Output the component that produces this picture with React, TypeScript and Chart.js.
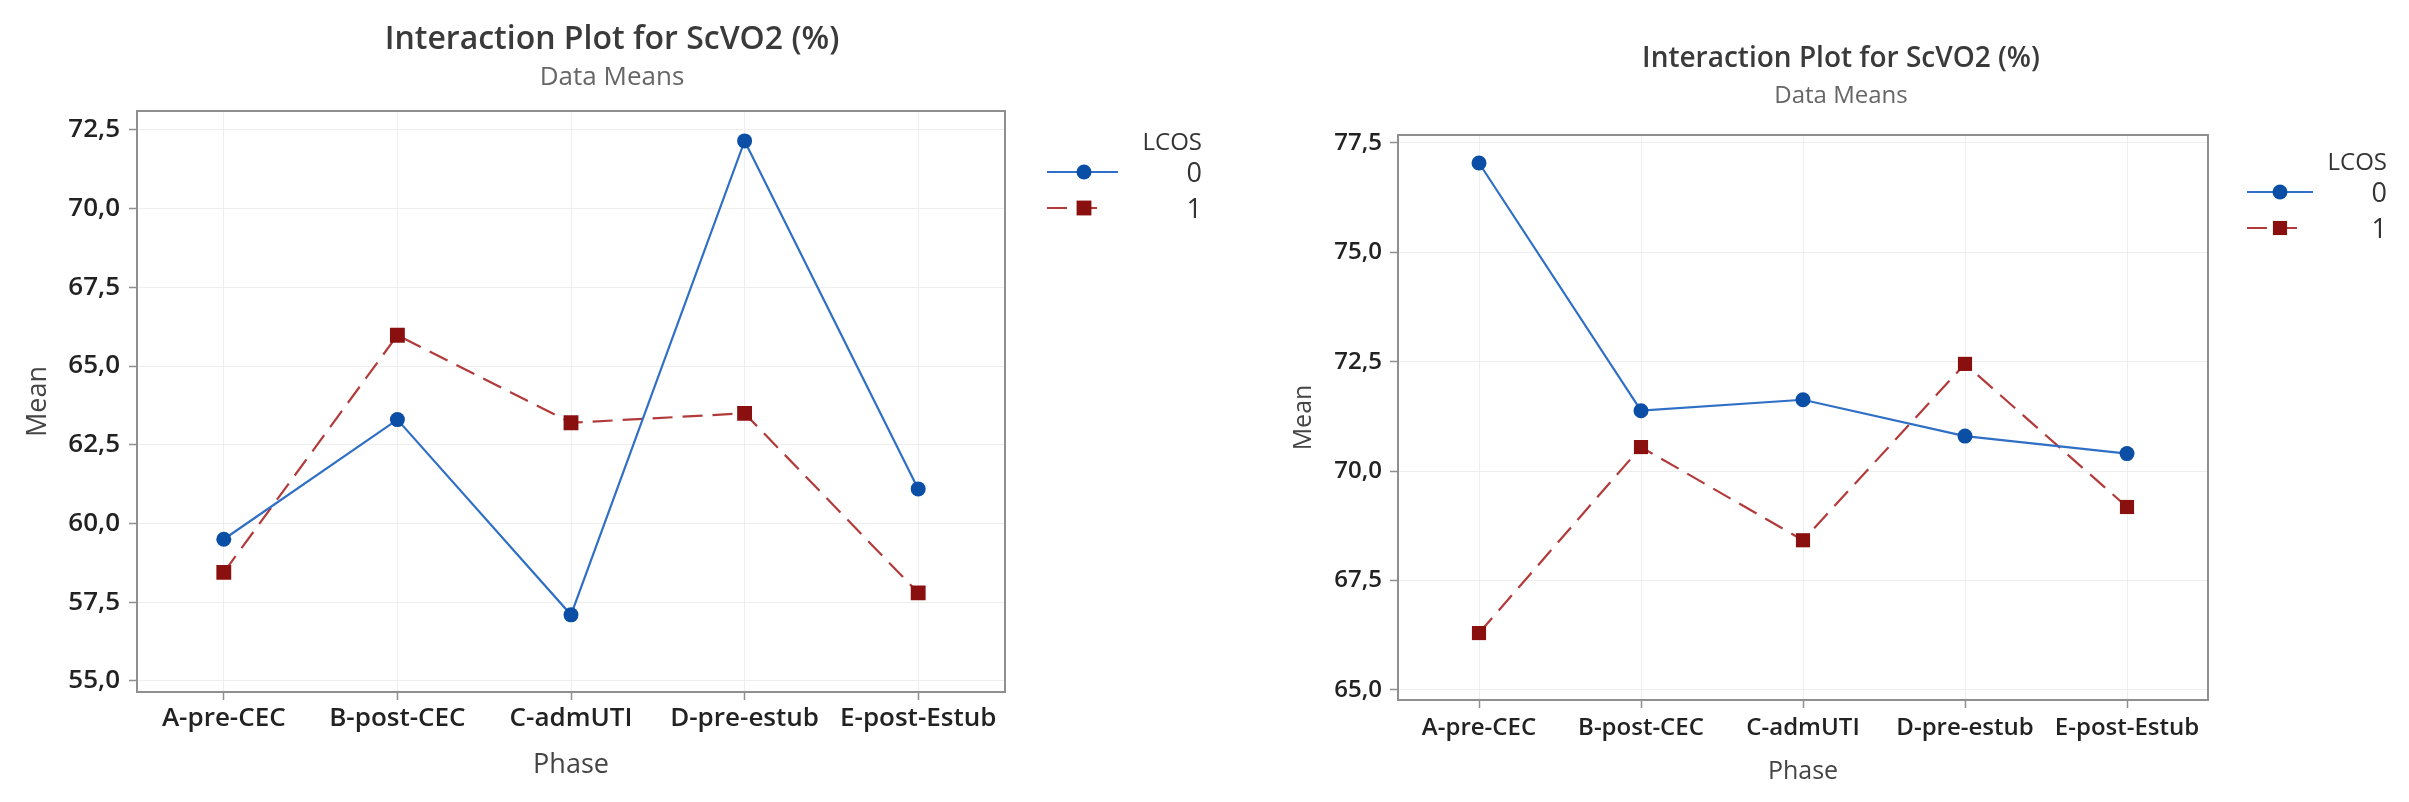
import React, { useEffect, useRef } from 'react';
import { Chart, registerables } from 'chart.js';

Chart.register(...registerables);

// ---------- data ----------
const phases = ['A-pre-CEC', 'B-post-CEC', 'C-admUTI', 'D-pre-estub', 'E-post-Estub'];
const lcosLevels = ['0', '1'];

// left panel
const leftLcos0 = [59.5, 63.3, 57.1, 72.15, 61.1];
const leftLcos1 = [58.45, 65.98, 63.2, 63.5, 57.8];
const leftTicks = [55, 57.5, 60, 62.5, 65, 67.5, 70, 72.5];
const leftRange = [54.65, 73.1];

// right panel
const rightLcos0 = [77.04, 71.38, 71.63, 70.8, 70.4];
const rightLcos1 = [66.3, 70.55, 68.42, 72.45, 69.18];
const rightTicks = [65, 67.5, 70, 72.5, 75, 77.5];
const rightRange = [64.77, 77.68];

const titleText = 'Interaction Plot for ScVO2 (%)';
const subtitleText = 'Data Means';
const xTitle = 'Phase';
const yTitle = 'Mean';
const legendTitle = 'LCOS';

const FONT = "'Open Sans', 'Noto Sans', sans-serif";

const fmt = (v: number) => v.toFixed(1).replace('.', ',');

const framePlugin = {
  id: 'mtFrame',
  beforeDatasetsDraw(chart: any) {
    const { ctx, chartArea } = chart;
    ctx.save();
    ctx.strokeStyle = '#8f8f8f';
    ctx.lineWidth = 2;
    ctx.beginPath();
    ctx.moveTo(chartArea.left, chartArea.top);
    ctx.lineTo(chartArea.right, chartArea.top);
    ctx.lineTo(chartArea.right, chartArea.bottom);
    ctx.stroke();
    ctx.restore();
  },
};

const legendPlugin = {
  id: 'mtLegend',
  afterDraw(chart: any, _args: any, opts: any) {
    const { ctx, chartArea } = chart;
    const r = chartArea.right;
    const t = chartArea.top;
    ctx.save();
    ctx.textAlign = 'right';
    ctx.textBaseline = 'middle';
    ctx.fillStyle = '#333333';
    ctx.font = `400 ${opts.titleSize}px ${FONT}`;
    ctx.fillText(opts.title, r + opts.textRight, t + opts.titleY);
    chart.data.datasets.forEach((ds: any, i: number) => {
      const y = t + opts.rowY[i];
      ctx.strokeStyle = ds.borderColor;
      ctx.lineWidth = ds.borderWidth;
      ctx.setLineDash(ds.borderDash || []);
      ctx.beginPath();
      ctx.moveTo(r + opts.lineStart, y);
      ctx.lineTo(r + opts.lineEnd[i], y);
      ctx.stroke();
      ctx.setLineDash([]);
      const mx = r + opts.marker;
      ctx.fillStyle = ds.pointBackgroundColor;
      ctx.beginPath();
      if (ds.pointStyle === 'rect') {
        const s = ds.pointRadius * Math.SQRT1_2;
        ctx.rect(mx - s, y - s, 2 * s, 2 * s);
      } else {
        ctx.arc(mx, y, ds.pointRadius, 0, Math.PI * 2);
      }
      ctx.fill();
      ctx.fillStyle = '#333333';
      ctx.font = `400 ${opts.labelSize}px ${FONT}`;
      ctx.fillText(ds.label, r + opts.textRight, y + 2);
    });
    ctx.restore();
  },
};

type PanelProps = {
  left: number;
  width: number;
  s0: number[];
  s1: number[];
  ticks: number[];
  range: number[];
  cfg: any;
};

function Panel({ left, width, s0, s1, ticks, range, cfg }: PanelProps) {
  const ref = useRef<HTMLCanvasElement | null>(null);
  useEffect(() => {
    if (!ref.current) return;
    const chart = new Chart(ref.current, {
      type: 'line',
      data: {
        labels: phases,
        datasets: [
          {
            label: lcosLevels[0],
            data: s0,
            borderColor: '#2f6fc6',
            borderWidth: 2.2,
            pointStyle: 'circle',
            pointRadius: cfg.circleR,
            pointBackgroundColor: '#0b4ea6',
            pointBorderColor: '#0b4ea6',
            pointBorderWidth: 0,
            tension: 0,
            fill: false,
          },
          {
            label: lcosLevels[1],
            data: s1,
            borderColor: '#b33a3a',
            borderWidth: 2.2,
            borderDash: [20, 10],
            pointStyle: 'rect',
            pointRadius: cfg.rectR,
            pointBackgroundColor: '#8a0f0f',
            pointBorderColor: '#8a0f0f',
            pointBorderWidth: 0,
            tension: 0,
            fill: false,
          },
        ],
      },
      options: {
        responsive: false,
        animation: false,
        events: [],
        layout: { padding: 0 },
        plugins: {
          legend: { display: false },
          tooltip: { enabled: false },
          title: {
            display: true,
            text: titleText,
            color: '#3a3a3a',
            font: { family: FONT, size: cfg.titleSize, weight: '600' },
            padding: { top: cfg.titlePadTop, bottom: 0 },
          },
          subtitle: {
            display: true,
            text: subtitleText,
            color: '#666666',
            font: { family: FONT, size: cfg.subSize, weight: '400' },
            padding: { top: cfg.subPadTop, bottom: cfg.subPadBottom },
          },
          mtLegend: cfg.legend,
        } as any,
        scales: {
          x: {
            type: 'category',
            offset: true,
            grid: {
              display: true,
              offset: false,
              color: '#eeeeee',
              lineWidth: 1,
              drawTicks: true,
              tickLength: 8,
              tickColor: '#8f8f8f',
              tickWidth: 1.5,
            },
            border: { display: true, color: '#8f8f8f', width: 2 },
            ticks: {
              color: '#222222',
              font: { family: FONT, size: cfg.tickSize, weight: '600' },
              padding: cfg.xTickPad,
              maxRotation: 0,
              autoSkip: false,
            },
            title: {
              display: true,
              text: xTitle,
              color: '#444444',
              font: { family: FONT, size: cfg.axisTitleSize, weight: '400' },
              padding: { top: 0, bottom: cfg.xTitlePad },
            },
            afterFit: (s: any) => {
              s.height = cfg.xAxisH;
            },
          },
          y: {
            type: 'linear',
            position: 'left',
            min: range[0],
            max: range[1],
            afterBuildTicks: (s: any) => {
              s.ticks = ticks.map((v) => ({ value: v }));
            },
            grid: {
              display: true,
              color: '#eeeeee',
              lineWidth: 1,
              drawTicks: true,
              tickLength: 8,
              tickColor: '#8f8f8f',
              tickWidth: 1.5,
            },
            border: { display: true, color: '#8f8f8f', width: 2 },
            ticks: {
              color: '#222222',
              font: { family: FONT, size: cfg.tickSize, weight: '600' },
              padding: cfg.yTickPad,
              callback: (v: any) => fmt(Number(v)),
            },
            title: {
              display: true,
              text: yTitle,
              color: '#444444',
              font: { family: FONT, size: cfg.axisTitleSize, weight: '400' },
              padding: { top: cfg.yTitlePad, bottom: 0 },
            },
            afterFit: (s: any) => {
              s.width = cfg.yAxisW;
            },
          },
          reserve: {
            type: 'linear',
            position: 'right',
            display: true,
            grid: { display: false, drawTicks: false },
            border: { display: false },
            ticks: { display: false },
            title: { display: false },
            afterFit: (s: any) => {
              s.width = cfg.reserveW;
            },
          },
        } as any,
      },
      plugins: [framePlugin, legendPlugin],
    });
    return () => chart.destroy();
  }, []);
  return (
    <canvas
      ref={ref}
      width={width}
      height={802}
      style={{ position: 'absolute', left, top: 0, width, height: 802 }}
    />
  );
}

const leftCfg = {
  titleSize: 32,
  titlePadTop: 20.8,
  subSize: 26,
  subPadTop: 3.2,
  subPadBottom: 17.4,
  tickSize: 26,
  axisTitleSize: 27,
  xTickPad: 3.4,
  yTickPad: 9,
  xTitlePad: 20.8,
  yTitlePad: 21.8,
  xAxisH: 110,
  yAxisW: 137,
  reserveW: 219,
  circleR: 7.5,
  rectR: 10.5,
  legend: {
    title: legendTitle,
    titleSize: 24,
    labelSize: 27,
    textRight: 197,
    titleY: 32,
    rowY: [61, 97],
    lineStart: 42,
    lineEnd: [113, 100],
    marker: 79,
  },
};

const rightCfg = {
  titleSize: 28,
  titlePadTop: 42.2,
  subSize: 24,
  subPadTop: 5.8,
  subPadBottom: 24.6,
  tickSize: 24,
  axisTitleSize: 25,
  xTickPad: 5.6,
  yTickPad: 8,
  xTitlePad: 15,
  yTitlePad: 16,
  xAxisH: 102,
  yAxisW: 125,
  reserveW: 201,
  circleR: 7.5,
  rectR: 10,
  legend: {
    title: legendTitle,
    titleSize: 24,
    labelSize: 27,
    textRight: 179,
    titleY: 28,
    rowY: [57, 93],
    lineStart: 39,
    lineEnd: [105, 92],
    marker: 72,
  },
};

export default function App() {
  return (
    <div style={{ position: 'absolute', left: 0, top: 0, width: 2409, height: 802, background: '#ffffff' }}>
      <Panel left={0} width={1224} s0={leftLcos0} s1={leftLcos1} ticks={leftTicks} range={leftRange} cfg={leftCfg} />
      <Panel left={1273} width={1136} s0={rightLcos0} s1={rightLcos1} ticks={rightTicks} range={rightRange} cfg={rightCfg} />
    </div>
  );
}
